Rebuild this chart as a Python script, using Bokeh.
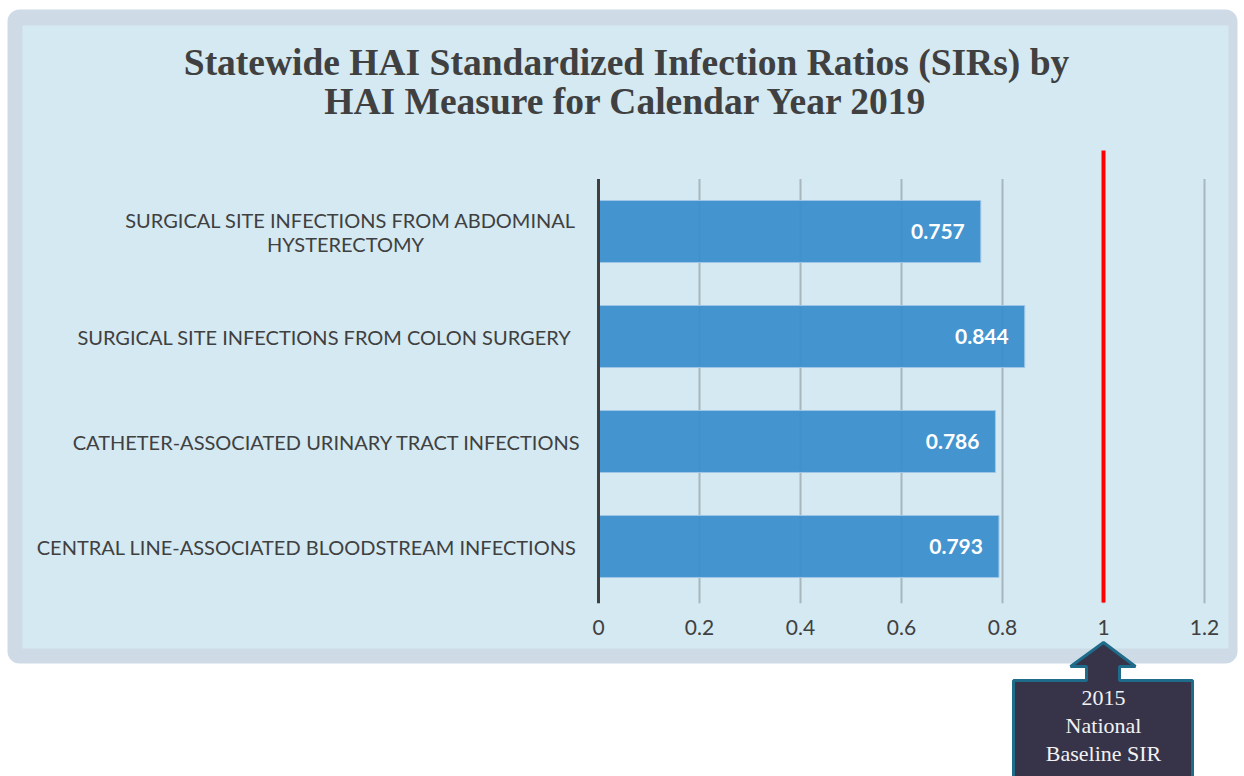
from bokeh.plotting import figure
from bokeh.models import Range1d, BoxAnnotation, ColumnDataSource
from bokeh.core.properties import value
from bokeh.embed import file_html
from bokeh.resources import INLINE

# ---- data ----
categories = [
    "SURGICAL SITE INFECTIONS  FROM ABDOMINAL\nHYSTERECTOMY",
    "SURGICAL SITE INFECTIONS  FROM COLON  SURGERY",
    "CATHETER-ASSOCIATED URINARY TRACT INFECTIONS",
    "CENTRAL LINE-ASSOCIATED  BLOODSTREAM INFECTIONS",
]
sir_values = [0.757, 0.844, 0.786, 0.793]
x_ticks = [0, 0.2, 0.4, 0.6, 0.8, 1.0, 1.2]
x_tick_labels = ["0", "0.2", "0.4", "0.6", "0.8", "1", "1.2"]
baseline = 1.0
title_lines = ["Statewide HAI Standardized Infection Ratios (SIRs) by",
               "HAI Measure for Calendar Year 2019"]
callout_lines = ["2015", "National", "Baseline SIR"]

# ---- canvas geometry (pixel <-> data helpers for decoration) ----
W, H = 1244, 776
X0, XS = 598.0, 505.0      # pixel of x=0, pixels per unit
Y0, YS = 231.0, 105.0      # pixel of first category, pixels per category


def X(px):
    return (px - X0) / XS


def Y(py):
    return (py - Y0) / YS


p = figure(width=W, height=H, output_backend="svg", toolbar_location=None,
           x_axis_type=None, y_axis_type=None,
           x_range=Range1d(X(0), X(W)), y_range=Range1d(Y(H), Y(0)),
           min_border=0, min_border_left=0, min_border_right=0,
           min_border_top=0, min_border_bottom=0)
p.outline_line_color = None
p.background_fill_color = "white"
p.border_fill_color = "white"
p.grid.visible = False

# panels
p.add_layout(BoxAnnotation(left=X(7), right=X(1237), top=Y(9), bottom=Y(663),
                           fill_color="#cedbe6", fill_alpha=1, line_color=None,
                           border_radius=12, level="underlay"))
p.add_layout(BoxAnnotation(left=X(22), right=X(1228), top=Y(25), bottom=Y(648),
                           fill_color="#d4e9f2", fill_alpha=1, line_color=None,
                           level="underlay"))

n = len(categories)
ypos = list(range(n))

# gridlines
p.segment(x0=x_ticks[1:], x1=x_ticks[1:], y0=[-0.5] * (len(x_ticks) - 1),
          y1=[n - 0.5 + 0.04] * (len(x_ticks) - 1), line_color="#9aa5ab",
          line_width=2, line_alpha=0.75)

# bars
src = ColumnDataSource(dict(y=ypos, v=sir_values,
                            lab=["%.3f" % v for v in sir_values]))
p.hbar(y="y", left=0, right="v", height=0.59, source=src,
       fill_color="#3b8fcc", fill_alpha=0.95, line_color="#9fc6e6", line_width=1)
p.text(x="v", y="y", text="lab", source=src, x_offset=-16,
       text_align="right", text_baseline="middle", text_color="white",
       text_font=value("Lato"), text_font_style="bold", text_font_size="21px")

# axis line at 0
p.segment(x0=[0], x1=[0], y0=[-0.5], y1=[n - 0.5 + 0.04], line_color="#404040",
          line_width=3)

# baseline red line
p.segment(x0=[baseline], x1=[baseline], y0=[Y(150)], y1=[Y(602)],
          line_color="#ff0000", line_width=4)

# x tick labels
p.text(x=x_ticks, y=[Y(627)] * len(x_ticks), text=x_tick_labels,
       text_align="center", text_baseline="middle", text_color="#404040",
       text_font=value("Lato"), text_font_size="21px")

# category labels
FS = "20px"
for i, c in enumerate(categories):
    parts = c.split("\n")
    if len(parts) == 1:
        p.text(x=[0], y=[i], text=[parts[0]], x_offset=-17, text_align="right",
               text_baseline="middle", text_color="#404040",
               text_font=value("Lato"), text_font_size=FS)
    else:
        p.text(x=[0], y=[i], text=[parts[0]], x_offset=-17, y_offset=-12,
               text_align="right", text_baseline="middle", text_color="#404040",
               text_font=value("Lato"), text_font_size=FS)
        p.text(x=[X(345)], y=[i], text=[parts[1]], y_offset=12,
               text_align="center", text_baseline="middle", text_color="#404040",
               text_font=value("Lato"), text_font_size=FS)

# title
p.text(x=[X(626), X(626)], y=[Y(62), Y(101)], text=title_lines,
       text_align="center", text_baseline="middle", text_color="#404040",
       text_font=value("Liberation Serif"), text_font_style="bold",
       text_font_size="37.5px")

# callout arrow
cx = [X(1103), X(1135), X(1119), X(1119), X(1192), X(1192), X(1013), X(1013),
      X(1086), X(1086), X(1070)]
cy = [Y(642), Y(666), Y(666), Y(680), Y(680), Y(790), Y(790), Y(680),
      Y(680), Y(666), Y(666)]
p.patch(cx, cy, fill_color="#37344a", line_color="#1f6b8a", line_width=3)
p.text(x=[X(1103)] * 3, y=[Y(697), Y(725), Y(753)], text=callout_lines,
       text_align="center", text_baseline="middle", text_color="#f2f2f2",
       text_font=value("Liberation Serif"), text_font_size="22px")

open("out.html", "w").write(file_html(p, INLINE))
